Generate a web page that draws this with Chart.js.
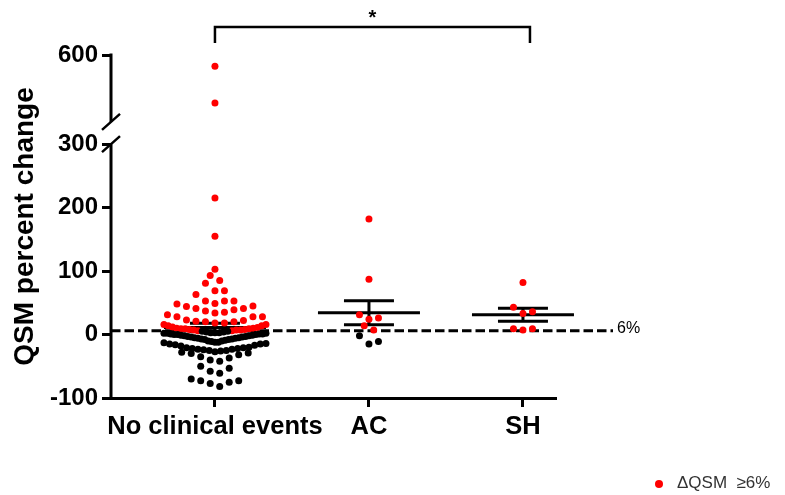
<!DOCTYPE html>
<html>
<head>
<meta charset="utf-8">
<title>QSM percent change</title>
<script src="https://cdn.jsdelivr.net/npm/chart.js@4.4.0/dist/chart.umd.min.js"></script>
<style>
  html, body { margin: 0; padding: 0; background: #fff; }
</style>
</head>
<body>
<canvas id="qsm" width="785" height="495"></canvas>
<script>
// groups on the x axis
var categories = ['No clinical events', 'AC', 'SH'];
var yTicks = [-100, 0, 100, 200, 300, 600];
var threshold = 6; // dashed reference line, dots at or above it are red

// QSM percent change per patient
var noEvents = [
  550, 385, 215, 155, 103, 93, 85, 81, 69, 69, 63,
  53, 49, 48, 53, 53,
  45, 41, 39, 35, 31, 28, 28, 28, 34, 37, 41, 44,
  23, 21, 20, 18, 16, 14, 12, 14, 16, 18, 20, 22,
  11, 10, 9, 9, 8, 8, 7, 7, 7, 6, 6, 9, 10,
  5, 5, 4, 4, 3, 3, 3, 2, 2, 2, 1, 1, 1, 0, 0, 0, -1, -1, -2, -2, -3, -3,
  -4, -4, -5, -5, -6, -6, -7, -7, -8, -8, -9, -10, -10, -11, -12, -12, -13,
  -14, -15, -15, -16, -17, -18,
  -20, -21, -21, -22, -22, -23, -23, -24, -25, -25, -26, -27, -28, -29, -30,
  -32, -35, -37, -40,
  -42, -50, -53, -58, -61, -70, -73, -73, -75, -77, -82
];
var acValues = [182, 87, 31, 24, 26, 14, 7, -2, -15, -11];
var shValues = [82, 43, 36, 33, 9, 7, 9];
var groups = [noEvents, acValues, shValues];

// y axis is split: -100..300 below the break, 300..600 above it
var lowerRange = [-100, 300];
var upperRange = [300, 600];
var lowerShare = 0.74;
var gapShare = 0.065;
var upperShare = 1 - lowerShare - gapShare;

var FONT = '"Liberation Sans", Arial, Helvetica, sans-serif';
var RED = '#ff0000';
var dotRadius = 3.5;

class BrokenLinear extends Chart.LinearScale {
  toDecimal(v) {
    if (v <= lowerRange[1]) {
      return (v - lowerRange[0]) / (lowerRange[1] - lowerRange[0]) * lowerShare;
    }
    return lowerShare + gapShare + (v - upperRange[0]) / (upperRange[1] - upperRange[0]) * upperShare;
  }
  getPixelForValue(v) {
    return this.getPixelForDecimal(this.toDecimal(v));
  }
  getValueForPixel(p) {
    var d = this.getDecimalForPixel(p);
    if (d <= lowerShare) {
      return lowerRange[0] + d / lowerShare * (lowerRange[1] - lowerRange[0]);
    }
    return upperRange[0] + (d - lowerShare - gapShare) / upperShare * (upperRange[1] - upperRange[0]);
  }
}
BrokenLinear.id = 'brokenLinear';
BrokenLinear.defaults = Chart.LinearScale.defaults;
Chart.register(BrokenLinear);

function meanSem(vals) {
  var n = vals.length;
  var m = vals.reduce(function(a, b) { return a + b; }, 0) / n;
  var ss = vals.reduce(function(a, b) { return a + (b - m) * (b - m); }, 0);
  return { mean: m, sem: Math.sqrt(ss / (n - 1)) / Math.sqrt(n) };
}

// scatter-dot layout: sorted values go into rows of limited pixel height,
// lowest value of a row sits in the middle, the rest alternate outwards
function rowLayout(vals, pix, rowH, gap, maxHalf) {
  var order = vals.map(function(v, i) { return i; }).sort(function(a, b) { return vals[a] - vals[b]; });
  var rows = [], cur = null;
  order.forEach(function(i) {
    if (!cur || Math.abs(pix[i] - cur.y0) > rowH) {
      cur = { y0: pix[i], items: [] };
      rows.push(cur);
    }
    cur.items.push(i);
  });
  var out = new Array(vals.length);
  rows.forEach(function(row) {
    var n = row.items.length;
    var s = n > 1 ? Math.min(gap, 2 * maxHalf / (n - 1)) : 0;
    var slots = [];
    for (var k = 0; k < n; k++) slots.push((k - (n - 1) / 2) * s);
    slots.sort(function(a, b) { return Math.abs(a) - Math.abs(b) || b - a; });
    row.items.forEach(function(i, k) { out[i] = slots[k]; });
  });
  return out;
}

var axisPlugin = {
  id: 'qsmDecor',
  beforeDatasetsDraw: function(chart) {
    var ctx = chart.ctx, xs = chart.scales.x, ys = chart.scales.y, area = chart.chartArea;
    ctx.save();
    // 6% reference line
    var y6 = ys.getPixelForValue(threshold);
    ctx.strokeStyle = '#000';
    ctx.lineWidth = 3;
    ctx.setLineDash([9.5, 4]);
    ctx.beginPath();
    ctx.moveTo(area.left, y6);
    ctx.lineTo(area.right + 58, y6);
    ctx.stroke();
    ctx.setLineDash([]);
    ctx.fillStyle = '#000';
    ctx.font = '16px ' + FONT;
    ctx.textBaseline = 'middle';
    ctx.textAlign = 'left';
    ctx.fillText('6%', area.right + 62, y6 - 2);

    // mean with SEM
    ctx.lineWidth = 3;
    groups.forEach(function(vals, gi) {
      var s = meanSem(vals);
      var cx = xs.getPixelForValue(gi);
      var ym = ys.getPixelForValue(s.mean);
      var yt = ys.getPixelForValue(s.mean + s.sem);
      var yb = ys.getPixelForValue(s.mean - s.sem);
      ctx.beginPath();
      ctx.moveTo(cx - 51, ym); ctx.lineTo(cx + 51, ym);
      ctx.moveTo(cx - 25, yt); ctx.lineTo(cx + 25, yt);
      ctx.moveTo(cx - 25, yb); ctx.lineTo(cx + 25, yb);
      ctx.moveTo(cx, yt); ctx.lineTo(cx, yb);
      ctx.stroke();
    });
    ctx.restore();
  },
  afterDraw: function(chart) {
    var ctx = chart.ctx, xs = chart.scales.x, ys = chart.scales.y, area = chart.chartArea;
    var ax = area.left;
    var yLowTop = ys.getPixelForValue(lowerRange[1]);
    var yUpBottom = ys.getPixelForDecimal(lowerShare + gapShare);
    ctx.save();
    ctx.strokeStyle = '#000';
    ctx.lineWidth = 3;
    ctx.lineCap = 'butt';
    // y axis in two pieces with break marks
    ctx.beginPath();
    ctx.moveTo(ax, area.bottom); ctx.lineTo(ax, yLowTop);
    ctx.moveTo(ax, area.top - 1.5); ctx.lineTo(ax, yUpBottom);
    ctx.stroke();
    ctx.lineWidth = 2.5;
    ctx.beginPath();
    ctx.moveTo(ax - 9, yLowTop + 8); ctx.lineTo(ax + 9, yLowTop - 8);
    ctx.moveTo(ax - 9, yUpBottom + 8); ctx.lineTo(ax + 9, yUpBottom - 8);
    ctx.stroke();

    // significance bracket between first and last group
    var x0 = xs.getPixelForValue(0), x2 = xs.getPixelForValue(2) + 7;
    ctx.lineWidth = 2.5;
    ctx.beginPath();
    ctx.moveTo(x0, 43); ctx.lineTo(x0, 27); ctx.lineTo(x2, 27); ctx.lineTo(x2, 43);
    ctx.stroke();
    ctx.fillStyle = '#000';
    ctx.font = 'bold 20px ' + FONT;
    ctx.textAlign = 'center';
    ctx.textBaseline = 'middle';
    ctx.fillText('*', (x0 + x2) / 2, 18);

    // legend
    ctx.fillStyle = RED;
    ctx.beginPath();
    ctx.arc(659, 484, 4, 0, Math.PI * 2);
    ctx.fill();
    ctx.fillStyle = '#333';
    ctx.font = '17px ' + FONT;
    ctx.textAlign = 'left';
    ctx.fillText('\u0394QSM  \u22656%', 677, 483);
    ctx.restore();
  }
};

var datasets = groups.map(function(vals, gi) {
  return {
    label: categories[gi],
    data: vals.map(function(v) { return { x: gi, y: v }; }),
    pointRadius: dotRadius,
    pointHoverRadius: dotRadius,
    borderWidth: 0,
    backgroundColor: function(c) { return c.raw && c.raw.y >= threshold ? RED : '#000'; },
    pointBorderColor: 'rgba(0,0,0,0)'
  };
});

var chart = new Chart(document.getElementById('qsm'), {
  type: 'scatter',
  data: { datasets: datasets },
  options: {
    responsive: false,
    animation: false,
    layout: { padding: { top: 55, right: 230, bottom: 0, left: 0 } },
    plugins: { legend: { display: false }, tooltip: { enabled: false } },
    scales: {
      x: {
        type: 'linear',
        min: -0.675,
        max: 2.208,
        afterBuildTicks: function(s) { s.ticks = [0, 1, 2].map(function(v) { return { value: v }; }); },
        afterFit: function(s) { s.height = 97; },
        ticks: {
          autoSkip: false,
          maxRotation: 0,
          padding: 5,
          color: '#000',
          font: { family: FONT, size: 25.5, weight: 'bold' },
          callback: function(v) { return categories[v]; }
        },
        grid: { drawOnChartArea: false, drawTicks: true, tickLength: 9, color: '#000', lineWidth: 3 },
        border: { display: true, color: '#000', width: 3 }
      },
      y: {
        type: 'brokenLinear',
        min: -100,
        max: 600,
        afterBuildTicks: function(s) { s.ticks = yTicks.map(function(v) { return { value: v }; }); },
        afterFit: function(s) { s.width = 111; },
        ticks: {
          autoSkip: false,
          padding: 4,
          color: '#000',
          font: { family: FONT, size: 24, weight: 'bold' },
          callback: function(v) { return String(v); }
        },
        grid: { drawOnChartArea: false, drawTicks: true, tickLength: 9, color: '#000', lineWidth: 3 },
        border: { display: false },
        title: {
          display: true,
          text: 'QSM percent change',
          color: '#000',
          font: { family: FONT, size: 28, weight: 'bold' },
          padding: { top: 8, bottom: 0 }
        }
      }
    }
  },
  plugins: [axisPlugin]
});

// spread each group's dots sideways in rows
(function spreadPoints() {
  var xs = chart.scales.x, ys = chart.scales.y;
  var unit = xs.getPixelForValue(1) - xs.getPixelForValue(0);
  chart.data.datasets.forEach(function(ds, gi) {
    var vals = groups[gi];
    var pix = vals.map(function(v) { return ys.getPixelForValue(v); });
    var offs = rowLayout(vals, pix, 9, 9.5, 51);
    ds.data.forEach(function(p, k) { p.x = gi + offs[k] / unit; });
  });
  chart.update('none');
})();
</script>
</body>
</html>
